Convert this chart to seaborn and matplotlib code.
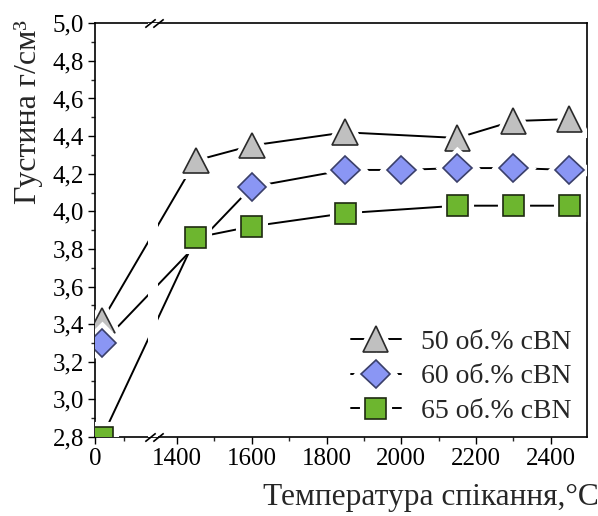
import numpy as np
import pandas as pd
import matplotlib
matplotlib.use("Agg")
import matplotlib.pyplot as plt
import matplotlib.patheffects as pe
import seaborn as sns

# ---- data ----
x_50 = [25, 1450, 1600, 1850, 2150, 2300, 2450]
y_50 = [3.42, 4.27, 4.35, 4.42, 4.39, 4.48, 4.49]
x_60 = [25, 1600, 1850, 2000, 2150, 2300, 2450]
y_60 = [3.30, 4.13, 4.22, 4.22, 4.23, 4.23, 4.22]
x_65 = [25, 1450, 1600, 1850, 2150, 2300, 2450]
y_65 = [2.80, 3.86, 3.92, 3.99, 4.03, 4.03, 4.03]
labels = ["50 об.% cBN", "60 об.% cBN", "65 об.% cBN"]
xticks = [0, 1400, 1600, 1800, 2000, 2200, 2400]
xminor = [100, 1500, 1700, 1900, 2100, 2300]
yticks = [2.8, 3.0, 3.2, 3.4, 3.6, 3.8, 4.0, 4.2, 4.4, 4.6, 4.8, 5.0]

sns.set_style("ticks")
plt.rcParams['font.family'] = ['Liberation Serif', 'DejaVu Serif']

# ---- broken x scale (piecewise linear) ----
B1, B2 = 200.0, 1400.0
sL, sM, sR = 0.285, 0.0208, 0.3733
pB1 = B1 * sL
pB2 = pB1 + (B2 - B1) * sM

def fwd(x):
    x = np.asarray(x, dtype=float)
    return np.where(x <= B1, x * sL,
           np.where(x <= B2, pB1 + (x - B1) * sM, pB2 + (x - B2) * sR))

def inv(t):
    t = np.asarray(t, dtype=float)
    return np.where(t <= pB1, t / sL,
           np.where(t <= pB2, B1 + (t - pB1) / sM, B2 + (t - pB2) / sR))

fig = plt.figure(figsize=(5.98, 5.16), dpi=100)
ax = fig.add_axes([0.159, 0.153, 0.822, 0.802])
ax.set_xscale('function', functions=(fwd, inv))

series = [
    (x_50, y_50, '^', '#c0c0c0', '#2a2a2a', 18.5),
    (x_60, y_60, 'D', '#8a96f4', '#3a3f6a', 14.5),
    (x_65, y_65, 's', '#6db62f', '#1e2a10', 15),
]

handles = []
for (xs, ys, mk, fc, ec, ms), lab in zip(series, labels):
    df = pd.DataFrame({'x': xs, 'y': ys})
    sns.lineplot(data=df, x='x', y='y', ax=ax, color='black', lw=1.4,
                 zorder=2, estimator=None, sort=False)
    lline = ax.lines[-1]
    sns.lineplot(data=df, x='x', y='y', ax=ax, linestyle='none', marker=mk,
                 markersize=ms, markerfacecolor=fc, markeredgecolor=ec,
                 markeredgewidth=1.2, zorder=4, estimator=None, sort=False,
                 path_effects=[pe.Stroke(linewidth=8, foreground='white'), pe.Normal()])
    mline = ax.lines[-1]
    handles.append((lline, mline))

# white gap in lines at the break
ax.axvspan(inv(pB1 - 4), inv(pB1 + 6), color='white', zorder=3, lw=0)

ax.set_xlim(0, 2496)
ax.set_ylim(2.8, 5.0)
ax.set_xticks(xticks)
ax.set_xticklabels([str(v) for v in xticks])
ax.set_xticks(xminor, minor=True)
ax.set_yticks(yticks)
ax.set_yticklabels([f"{v:.1f}".replace('.', ',') for v in yticks])
ax.set_yticks(np.arange(2.9, 5.0, 0.2), minor=True)
ax.tick_params(axis='both', which='major', length=5, width=1, labelsize=18,
               direction='out', colors='black', pad=3)
ax.tick_params(axis='both', which='minor', length=3, width=1, direction='out')
ax.tick_params(top=False, right=False, which='both')
for s in ax.spines.values():
    s.set_visible(True)
    s.set_linewidth(1.2)
    s.set_color('black')

# break marks
tr = ax.get_xaxis_transform()
for p in (pB1 - 2, pB1 + 6):
    for yy in (0, 1):
        ax.plot([inv(p)], [yy], transform=tr, marker=[(-1, -0.8), (1, 0.8)],
                markersize=7.5, markeredgewidth=1.2, color='black',
                clip_on=False, linestyle='none', zorder=6)

ax.set_xlabel("Температура спікання,°С", fontsize=22.6, ha='right', va='center')
ax.xaxis.set_label_coords(1.025, -0.145)
ax.set_ylabel("Густина г/см³", fontsize=23, va='center')
ax.yaxis.set_label_coords(-0.136, 0.786)

leg = ax.legend(handles, labels, loc='lower right', bbox_to_anchor=(1.004, -0.009),
                frameon=False, fontsize=20, handlelength=1.8, handletextpad=0.75,
                labelspacing=0.33, borderaxespad=0.2)

fig.savefig("out.png", dpi=100)
